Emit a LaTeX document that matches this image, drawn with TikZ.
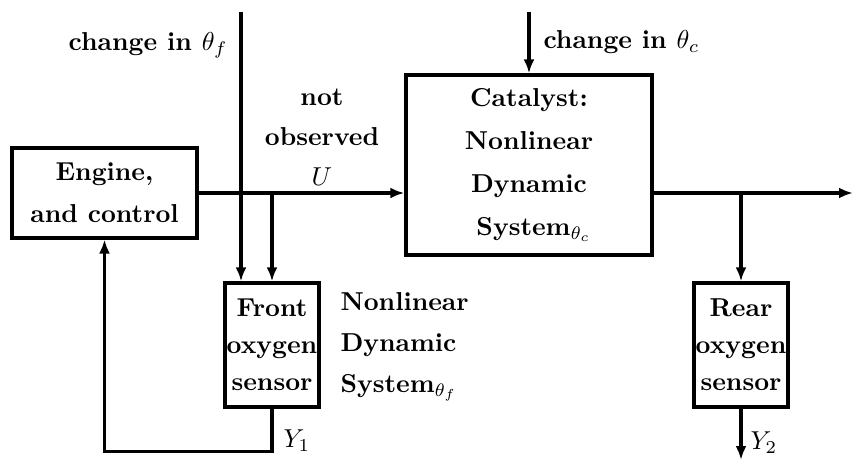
\documentclass[tikz,border=0pt]{standalone}
\usepackage{tikz}
\usetikzlibrary{arrows.meta}
\tikzset{
  blk/.style={draw, line width=1.25pt, inner sep=0pt, align=center, font=\bfseries},
  lbl/.style={inner sep=0pt, font=\bfseries},
  sig/.style={line width=1.25pt, -{Latex[length=5.4pt,width=4.2pt]}},
}
\begin{document}
\begin{tikzpicture}[x=0.3861pt,y=-0.3861pt]
  \useasboundingbox (0,0) rectangle (853,462);

  % blocks
  \node[blk, minimum width=71.4pt, minimum height=34.7pt] (engine) at (104.5,193)
    {Engine,\\[4.2pt]and control};
  \node[blk, minimum width=95pt, minimum height=69.5pt] (cat) at (529,165)
    {Catalyst:\\[4.6pt]Nonlinear\\[4.6pt]Dynamic\\[4.6pt]\ System$_{\theta_c}$};
  \node[blk, minimum width=36.3pt, minimum height=47.9pt] (front) at (272,345)
    {Front\\[2.3pt]oxygen\\[2.3pt]sensor};
  \node[blk, minimum width=36.3pt, minimum height=47.9pt] (rear) at (741,345)
    {Rear\\[2.3pt]oxygen\\[2.3pt]sensor};

  % labels
  \node[lbl, anchor=east] (lthf) at (228,45) {change in $\theta_f$};
  \node[lbl, anchor=west] (lthc) at (543,42) {change in $\theta_c$};
  \node[lbl, align=center] (lnot) at (322,137) {not\\[3.4pt]observed\\[3.4pt]$U$};
  \node[lbl, align=left, anchor=west] (lsys) at (340,347)
    {Nonlinear\\[3.8pt]Dynamic\\[3.8pt]System$_{\theta_f}$};
  \node[lbl, anchor=west] (ly1) at (283,441) {$Y_1$};
  \node[lbl, anchor=west] (ly2) at (750,443) {$Y_2$};

  % free ends
  \coordinate (thf) at (241,12);
  \coordinate (thc) at (529,12);
  \coordinate (out) at (853,193);
  \coordinate (y2end) at (741,460);

  % signals
  \draw[sig] (engine.east) -- (engine.east -| cat.west);
  \draw[sig] (cat.east |- engine.east) -- (out);
  \draw[sig] (thc) -- (cat.north);
  \draw[sig] (thf) -- (thf |- front.north);
  \draw[sig] (front.north |- engine.east) -- (front.north);
  \draw[sig] (rear.north |- engine.east) -- (rear.north);
  \draw[sig] (rear.south) -- (y2end);
  \draw[sig] (front.south) -- ++(0,43) -| (engine.south);
\end{tikzpicture}
\end{document}
